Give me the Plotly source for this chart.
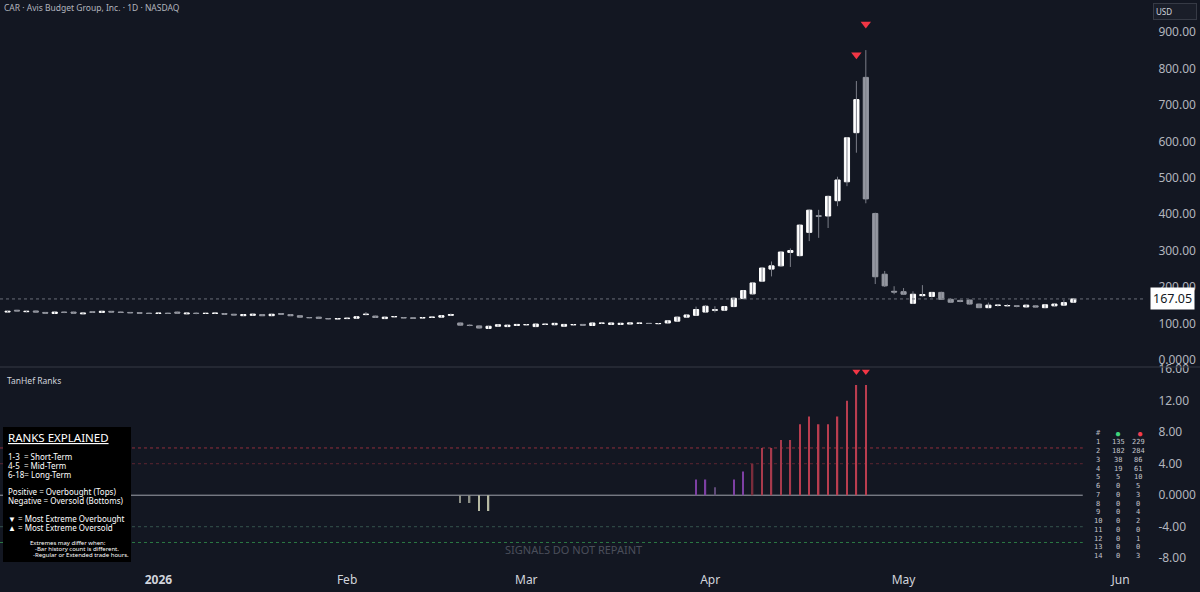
import plotly.graph_objects as go

# ---------------- data ----------------
bar_index = list(range(114))

opens = [131, 136, 132, 134, 130, 127, 131, 131, 126, 132,
         130, 133, 131, 130, 129, 128, 127, 128, 131, 126,
         128, 127, 127, 127, 125, 121, 122, 124, 121, 127,
         124, 121, 116, 117, 113, 112, 113, 114, 124, 120,
         113, 118, 116, 115, 115, 116, 117, 122, 101, 95,
         93, 86, 92, 91, 94, 96, 91, 97, 96, 92,
         96, 97, 94, 100, 97, 97, 98, 100, 100, 99,
         101, 106, 117, 122, 131, 136, 136, 146, 168, 181,
         216, 249, 258, 295, 286, 350, 396, 395, 437, 489,
         624, 776, 402, 235, 188, 187, 155, 176, 174, 185,
         166, 163, 164, 153, 143, 149, 148, 148, 145, 148,
         143, 148, 150, 158]

highs = [134, 137, 134, 135, 131, 132, 132, 132, 129, 133,
         134, 134, 132, 131, 130, 129, 129, 129, 132, 129,
         130, 128, 129, 128, 126, 125, 126, 125, 126, 128,
         125, 122, 117, 118, 114, 114, 115, 119, 131, 121,
         118, 120, 117, 116, 117, 118, 122, 127, 102, 97,
         94, 93, 97, 96, 98, 98, 99, 99, 101, 98,
         98, 98, 102, 102, 102, 101, 102, 102, 101, 101,
         108, 118, 124, 146, 150, 147, 147, 170, 191, 213,
         255, 270, 298, 306, 371, 413, 412, 451, 503, 612,
         766, 851, 404, 244, 202, 197, 188, 205, 186, 187,
         169, 165, 165, 154, 157, 152, 153, 150, 151, 149,
         152, 154, 164, 168]

lows = [130, 133, 130, 130, 127, 126, 128, 127, 125, 129,
        129, 130, 129, 128, 127, 126, 126, 126, 127, 125,
        125, 126, 126, 124, 122, 120, 121, 120, 120, 124,
        120, 116, 114, 113, 111, 111, 112, 113, 122, 115,
        112, 117, 114, 113, 114, 115, 116, 121, 93, 92,
        86, 85, 91, 90, 93, 94, 90, 95, 95, 91,
        94, 94, 93, 98, 96, 96, 97, 99, 98, 97,
        100, 105, 116, 121, 129, 130, 135, 145, 166, 179,
        214, 229, 256, 255, 284, 326, 335, 362, 422, 477,
        569, 430, 208, 200, 180, 178, 153, 173, 171, 165,
        156, 158, 152, 142, 142, 146, 146, 144, 144, 144,
        142, 147, 149, 157]

closes = [133, 134, 133, 131, 128, 131, 130, 128, 128, 130,
          133, 131, 130, 129, 128, 127, 128, 127, 128, 128,
          127, 127.5, 128, 125, 123, 124, 125, 121, 125, 125,
          121, 117, 115.5, 114, 112.5, 113, 114, 118, 125, 116,
          117, 118.5, 115, 114, 115.5, 117, 121, 124, 95, 94,
          87, 92, 96, 95, 97, 96.5, 98, 97.5, 100, 97,
          96.5, 95, 101, 100.5, 101, 100, 101, 100.5, 99.5, 99.5,
          107, 117, 123, 138, 147, 137, 146, 169, 190, 211,
          252, 258, 296, 300, 370, 411, 394, 449, 494, 610,
          715, 442, 228, 203, 186, 180, 180, 179, 185, 166,
          158, 160, 153, 143, 150, 150, 149, 147, 150, 145,
          151, 153, 157, 167.05]

last_price = 167.05

# TanHef rank histogram (bars with non-zero rank)
rank_idx = [48, 49, 50, 51, 73, 74, 75, 77, 78, 79, 80, 81, 82, 83, 84, 85, 86, 87, 88, 89, 90, 91]
rank_vals = [-1, -1, -2, -2, 2, 2, 1, 2, 3, 4, 6, 6, 7, 7, 9, 10, 9, 9, 10, 12, 14, 14]

# most extreme overbought signals
extreme_idx = [90, 91]

# rank count table
table_rank = ["1", "2", "3", "4", "5", "6", "7", "8", "9", "10", "11", "12", "13", "14"]
table_bull = ["135", "182", "38", "19", "5", "0", "0", "0", "0", "0", "0", "0", "0", "0"]
table_bear = ["229", "284", "86", "61", "10", "5", "3", "0", "4", "2", "0", "1", "0", "3"]

# axes
x_tick_pos = [16, 36, 55, 74.5, 95, 118]
x_tick_text = ["<b>2026</b>", "Feb", "Mar", "Apr", "May", "Jun"]
price_ticks = [0, 100, 200, 300, 400, 500, 600, 700, 800, 900]
price_tick_text = ["0.0000", "100.00", "200.00", "300.00", "400.00", "500.00",
                   "600.00", "700.00", "800.00", "900.00"]
rank_ticks = [16, 12, 8, 4, 0, -4, -8]
rank_tick_text = ["16.00", "12.00", "8.00", "4.00", "0.0000", "-4.00", "-8.00"]
rank_levels = [6, 4, -4, -6]

# ---------------- style ----------------
BG = "#131722"
W, H = 1200, 592
ML, MR, MT, MB = 0, 55, 0, 27
PW, PH = W - ML - MR, H - MT - MB
X_RANGE = [-0.8, 120.6]
Y_RANGE = [-18.7, 988.7]
Y2_RANGE = [-8.86, 16.22]
FONT = "Noto Sans"
TRI_OFFSET = 72
TRI_RANK_Y = 15.7
LEVEL_END = 114
level_colors = ["#8f2f3c", "#5c2530", "#35544d", "#2c7a43"]


def rank_color(v):
    if v <= -2:
        return "#b7baa3"
    if v < 0:
        return "#8c8f85"
    if v == 1:
        return "#5f4a78"
    if v <= 3:
        return "#7d3fa3"
    if v <= 5:
        return "#7a2c3b"
    if v <= 8:
        return "#a83a4c"
    return "#b93d4f"


def px(x):
    return x / PW


def py(y):
    return 1 - y / PH


fig = go.Figure()

# wicks
wx, wy = [], []
for i, lo, hi in zip(bar_index, lows, highs):
    wx += [i, i, None]
    wy += [lo, hi, None]
fig.add_trace(go.Scatter(x=wx, y=wy, mode="lines", line=dict(color="#7b7e88", width=1),
                         hoverinfo="skip", showlegend=False, xaxis="x", yaxis="y"))

# bodies
fig.add_trace(go.Candlestick(
    x=bar_index, open=opens, close=closes,
    high=[max(o, c) for o, c in zip(opens, closes)],
    low=[min(o, c) for o, c in zip(opens, closes)],
    increasing=dict(fillcolor="#ffffff", line=dict(color="#ffffff", width=1)),
    decreasing=dict(fillcolor="#9598a1", line=dict(color="#9598a1", width=1)),
    whiskerwidth=0, showlegend=False, xaxis="x", yaxis="y"))

# signal triangles on price
fig.add_trace(go.Scatter(
    x=extreme_idx, y=[highs[i] + TRI_OFFSET for i in extreme_idx], mode="markers",
    marker=dict(symbol="triangle-down", size=9, color="#f23645"),
    showlegend=False, xaxis="x", yaxis="y"))

# rank histogram
fig.add_trace(go.Bar(
    x=rank_idx, y=rank_vals, width=0.15,
    marker=dict(color=[rank_color(v) for v in rank_vals], line=dict(width=0)),
    showlegend=False, xaxis="x", yaxis="y2"))

fig.add_trace(go.Scatter(
    x=extreme_idx, y=[TRI_RANK_Y] * len(extreme_idx), mode="markers",
    marker=dict(symbol="triangle-down", size=7, color="#f23645"),
    showlegend=False, xaxis="x", yaxis="y2"))

shapes = []
# panel separator
shapes.append(dict(type="line", xref="paper", yref="paper", x0=0, x1=W / PW,
                   y0=py(367), y1=py(367), line=dict(color="#363a45", width=1)))
# last price line
shapes.append(dict(type="line", xref="paper", yref="y", x0=0, x1=1, y0=last_price, y1=last_price,
                   line=dict(color="#6a6d78", width=1, dash="dot")))
# rank levels
for lv, col in zip(rank_levels, level_colors):
    shapes.append(dict(type="line", xref="x", yref="y2", x0=X_RANGE[0], x1=LEVEL_END, y0=lv, y1=lv,
                       line=dict(color=col, width=1, dash="3px,3px"), layer="below"))
shapes.append(dict(type="line", xref="x", yref="y2", x0=X_RANGE[0], x1=LEVEL_END, y0=0, y1=0,
                   line=dict(color="#9fa2ab", width=1), layer="below"))
# explanation box
shapes.append(dict(type="rect", xref="paper", yref="paper", x0=px(3), x1=px(131),
                   y0=py(562), y1=py(427), fillcolor="#000000", line=dict(width=0), layer="above"))

ann = []


def add_text(text, x, y, size, color, xanchor="left", family=FONT, **kw):
    ann.append(dict(text=text, x=px(x), y=py(y), xref="paper", yref="paper",
                    xanchor=xanchor, yanchor="middle", showarrow=False, borderpad=0,
                    font=dict(size=size, color=color, family=family), **kw))


add_text("CAR · Avis Budget Group, Inc. · 1D · NASDAQ", 3, 7, 8.5, "#b2b5be")
add_text("TanHef Ranks", 6, 380, 8.5, "#d1d4dc")
add_text("SIGNALS DO NOT REPAINT", 573, 549, 11, "#4a4e5a", xanchor="center")

# explanation box text
add_text("<u>RANKS EXPLAINED</u>", 7, 437.5, 11.5, "#ffffff")
box_lines = [("1-3\u00a0\u00a0= Short-Term", 456.5),
             ("4-5\u00a0\u00a0= Mid-Term", 465.5),
             ("6-18= Long-Term", 474.5),
             ("Positive = Overbought (Tops)", 491.5),
             ("Negative = Oversold (Bottoms)", 500.5),
             ("▼ = Most Extreme Overbought", 518),
             ("▲ = Most Extreme Oversold", 527)]
for t, yy in box_lines:
    add_text(t, 7, yy, 8, "#ffffff")
add_text("Extremes may differ when:", 29, 542.7, 6, "#ffffff")
add_text("-Bar history count is different.", 34, 548.6, 6, "#ffffff")
add_text("-Regular or Extended trade hours.", 32, 555, 6, "#ffffff")

# rank count table
MONO = "DejaVu Sans Mono"
add_text("#", 1098, 433, 7, "#b2b5be", xanchor="center", family=MONO)
add_text("●", 1118, 433, 10, "#3fd47b", xanchor="center")
add_text("●", 1140, 433, 10, "#f23d4f", xanchor="center")
for k, (r, b, s) in enumerate(zip(table_rank, table_bull, table_bear)):
    yy = 442.3 + k * 8.75
    add_text(r, 1098, yy, 7, "#c3c5cc", xanchor="center", family=MONO)
    add_text(b, 1118, yy, 7, "#c3c5cc", xanchor="center", family=MONO)
    add_text(s, 1138, yy, 7, "#c3c5cc", xanchor="center", family=MONO)

# last price label
ann.append(dict(text="167.05", x=1, xref="paper", y=last_price, yref="y", xanchor="left",
                yanchor="middle", xshift=5, showarrow=False, bgcolor="#ffffff", borderpad=2,
                font=dict(size=12.5, color="#131722", family=FONT)))
# currency box
ann.append(dict(text="USD", x=1, xref="paper", y=1, yref="paper", xanchor="left", yanchor="top",
                xshift=8, yshift=-3, showarrow=False, bgcolor="#1a1e29", bordercolor="#363a45",
                borderwidth=1, borderpad=2, width=38, align="left",
                font=dict(size=8, color="#d1d4dc", family=FONT)))

axis_font = dict(size=12, color="#b2b5be", family=FONT)
fig.update_layout(
    width=W, height=H, margin=dict(l=ML, r=MR, t=MT, b=MB, autoexpand=False),
    paper_bgcolor=BG, plot_bgcolor=BG, showlegend=False, boxgap=0.22,
    xaxis=dict(range=X_RANGE, anchor="y2", showgrid=False, zeroline=False, automargin=False,
               tickmode="array", tickvals=x_tick_pos, ticktext=x_tick_text,
               ticks="outside", ticklen=4, tickcolor=BG, showline=False,
               tickfont=dict(size=12, color="#d1d4dc", family=FONT),
               rangeslider=dict(visible=False)),
    yaxis=dict(domain=[0.3513, 1], range=Y_RANGE, side="right", anchor="x", automargin=False,
               showgrid=False, zeroline=False, tickmode="array", tickvals=price_ticks,
               ticktext=price_tick_text, ticks="outside", ticklen=10, tickcolor=BG,
               tickfont=axis_font),
    yaxis2=dict(domain=[0, 0.3496], range=Y2_RANGE, side="right", anchor="x", automargin=False,
                showgrid=False, zeroline=False, tickmode="array", tickvals=rank_ticks,
                ticktext=rank_tick_text, ticks="outside", ticklen=10, tickcolor=BG,
                tickfont=axis_font),
    shapes=shapes, annotations=ann,
)

fig.write_html(
    "out.html",
    config={"displayModeBar": False},
    post_script="document.body.style.margin='0px';document.body.style.overflow='hidden';"
                "document.body.style.background='" + BG + "';",
)
